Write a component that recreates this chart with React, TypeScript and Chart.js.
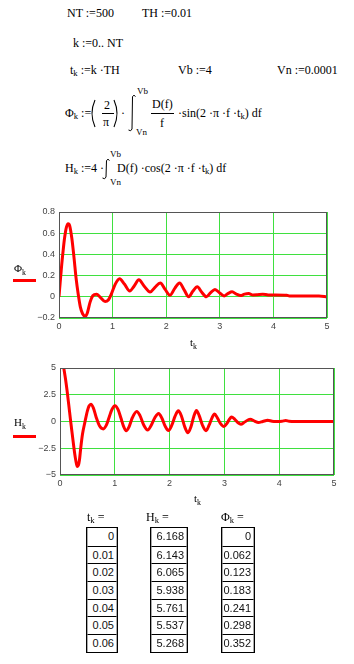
import React, { useEffect, useRef } from 'react';
import { Chart, registerables } from 'chart.js';
Chart.register(...registerables);

// ---- Data ----
const phiT = [0, 0.01, 0.02, 0.03, 0.04, 0.05, 0.06, 0.08, 0.10, 0.12, 0.14, 0.17, 0.20, 0.24, 0.28, 0.32, 0.36, 0.40, 0.44, 0.49, 0.53, 0.58, 0.63, 0.70, 0.77, 0.86, 0.92, 0.98, 1.05, 1.13, 1.22, 1.32, 1.40, 1.49, 1.59, 1.70, 1.79, 1.89, 1.98, 2.07, 2.16, 2.25, 2.34, 2.42, 2.50, 2.58, 2.66, 2.75, 2.83, 2.91, 3.00, 3.08, 3.15, 3.23, 3.31, 3.39, 3.46, 3.54, 3.62, 3.70, 3.80, 3.90, 4.00, 4.25, 4.30, 4.60, 4.85, 5.00];
const phiV = [0, 0.062, 0.123, 0.183, 0.241, 0.298, 0.352, 0.45, 0.54, 0.61, 0.66, 0.69, 0.67, 0.55, 0.37, 0.17, 0.02, -0.10, -0.16, -0.185, -0.15, -0.05, 0.01, 0.025, -0.005, -0.045, -0.03, 0.03, 0.12, 0.17, 0.12, 0.055, 0.10, 0.16, 0.10, 0.045, 0.09, 0.13, 0.07, 0.015, 0.08, 0.13, 0.06, 0.0, 0.055, 0.095, 0.045, 0.0, 0.04, 0.07, 0.035, 0.008, 0.03, 0.047, 0.025, 0.012, 0.025, 0.03, 0.018, 0.02, 0.024, 0.018, 0.017, 0.015, 0.008, 0.008, 0.008, 0.0];

const hT = [0, 0.01, 0.02, 0.03, 0.04, 0.05, 0.06, 0.08, 0.10, 0.13, 0.16, 0.195, 0.225, 0.255, 0.28, 0.30, 0.317, 0.335, 0.355, 0.378, 0.41, 0.457, 0.50, 0.53, 0.565, 0.61, 0.66, 0.72, 0.79, 0.85, 0.90, 0.95, 1.005, 1.06, 1.11, 1.16, 1.207, 1.26, 1.32, 1.40, 1.46, 1.53, 1.60, 1.66, 1.73, 1.80, 1.86, 1.92, 1.98, 2.04, 2.10, 2.16, 2.22, 2.28, 2.335, 2.39, 2.44, 2.49, 2.54, 2.60, 2.665, 2.72, 2.77, 2.82, 2.87, 2.93, 2.99, 3.05, 3.09, 3.13, 3.19, 3.25, 3.30, 3.37, 3.47, 3.55, 3.62, 3.70, 3.79, 3.87, 3.95, 4.05, 4.12, 4.18, 4.30, 5.00];
const hV = [6.168, 6.143, 6.065, 5.938, 5.761, 5.537, 5.268, 4.65, 4.0, 2.85, 1.55, 0, -1.25, -2.5, -3.4, -3.95, -4.2, -4.1, -3.6, -2.5, -1.2, 0, 1.0, 1.45, 1.62, 1.25, 0.4, -0.4, -0.69, -0.3, 0.45, 1.15, 1.47, 1.1, 0.35, -0.45, -0.87, -0.5, 0.35, 0.94, 0.55, -0.35, -0.8, -0.4, 0.35, 0.75, 0.3, -0.45, -0.85, -0.35, 0.5, 1.0, 0.45, -0.55, -1.05, -0.5, 0.45, 1.02, 0.55, -0.35, -0.86, -0.35, 0.3, 0.71, 0.35, -0.2, -0.47, -0.15, 0.2, 0.41, 0.2, -0.12, -0.25, -0.05, 0.22, 0.03, -0.1, 0.0, 0.12, 0.02, 0.0, 0.02, 0.1, 0.02, 0.0, 0.0];

const tableT = ['0', '0.01', '0.02', '0.03', '0.04', '0.05', '0.06'];
const tableH = ['6.168', '6.143', '6.065', '5.938', '5.761', '5.537', '5.268'];
const tablePhi = ['0', '0.062', '0.123', '0.183', '0.241', '0.298', '0.352'];

const xTickMin = 0;
const xTickMax = 5;
const xTickStep = 1;
const phiTickMin = -0.2;
const phiTickMax = 0.8;
const phiTickStep = 0.2;
const hTickMin = -5;
const hTickMax = 5;
const hTickStep = 2.5;

// ---- Styles ----
const SERIF = '"Liberation Serif","Times New Roman",serif';
const SANS = '"Liberation Sans",Arial,sans-serif';
const GRID = '#3fe03f';
const RED = '#ff0000';

function fmtTick(v: number) {
  const r = Math.round(v * 1000) / 1000;
  if (r < 0) return '\u2212' + String(-r);
  return String(r);
}

type PlotProps = {
  top: number; height: number; xs: number[]; ys: number[];
  yMin: number; yMax: number; yStep: number;
  axisW: number; padTop: number; padRight: number; xAxisH: number;
};

function Plot(p: PlotProps) {
  const ref = useRef<HTMLCanvasElement>(null);
  useEffect(() => {
    const frame = {
      id: 'frame',
      afterDatasetsDraw(chart: any) {
        const { ctx, chartArea: a } = chart;
        ctx.save();
        ctx.strokeStyle = '#555';
        ctx.lineWidth = 1;
        ctx.strokeRect(a.left + 0.5, a.top + 0.5, a.right - a.left - 1, a.bottom - a.top - 1);
        ctx.restore();
      },
    };
    const font = { family: SANS, size: 9 };
    const chart = new Chart(ref.current!, {
      type: 'line',
      data: {
        datasets: [{
          data: p.xs.map((x, i) => ({ x, y: p.ys[i] })),
          borderColor: RED,
          borderWidth: 3,
          pointRadius: 0,
          fill: false,
          cubicInterpolationMode: 'monotone',
        }],
      },
      options: {
        animation: false,
        responsive: false,
        maintainAspectRatio: false,
        layout: { padding: { top: p.padTop, right: p.padRight, left: 0, bottom: 0 } },
        plugins: { legend: { display: false }, tooltip: { enabled: false } },
        scales: {
          x: {
            type: 'linear', min: xTickMin, max: xTickMax,
            ticks: { stepSize: xTickStep, padding: 3, font, color: '#444', maxRotation: 0, callback: (v: any) => fmtTick(Number(v)) },
            grid: { color: GRID, drawTicks: false, lineWidth: 1 },
            border: { display: false },
            afterFit: (s: any) => { s.height = p.xAxisH; },
          },
          y: {
            type: 'linear', min: p.yMin, max: p.yMax,
            ticks: { stepSize: p.yStep, padding: 4, font, color: '#444', callback: (v: any) => fmtTick(Number(v)) },
            grid: { color: GRID, drawTicks: false, lineWidth: 1 },
            border: { display: false },
            afterFit: (s: any) => { s.width = p.axisW; },
          },
        },
      } as any,
      plugins: [frame],
    });
    return () => chart.destroy();
  }, []);
  return (
    <canvas ref={ref} width={354} height={p.height}
      style={{ position: 'absolute', left: 0, top: p.top, width: 354, height: p.height }} />
  );
}

const Sub = ({ children }: any) => (
  <span style={{ fontSize: '0.72em', position: 'relative', top: '0.32em' }}>{children}</span>
);

function T({ x, y, size = 12, children, font = SERIF }: any) {
  return (
    <div style={{
      position: 'absolute', left: x, top: y - size * 0.62, fontSize: size,
      lineHeight: `${Math.round(size * 1.24)}px`, whiteSpace: 'nowrap', fontFamily: font, color: '#000',
    }}>{children}</div>
  );
}

function Integral({ x, top, h }: any) {
  return (
    <svg style={{ position: 'absolute', left: x, top }} width={8} height={h}>
      <path d={`M7.5,2.5 Q6,0 4.5,2.5 L4,${h - 3} Q3,${h} 0.5,${h - 2}`} stroke="#000" fill="none" strokeWidth={1} />
    </svg>
  );
}

function Paren({ x, top, h, right }: any) {
  const d = right ? `M1,1 Q7,${h / 2} 1,${h - 1}` : `M7,1 Q1,${h / 2} 7,${h - 1}`;
  return (
    <svg style={{ position: 'absolute', left: x, top }} width={8} height={h}>
      <path d={d} stroke="#000" fill="none" strokeWidth={1.1} />
    </svg>
  );
}

function Bar({ x, y, w }: any) {
  return <div style={{ position: 'absolute', left: x, top: y, width: w, height: 1, background: '#000' }} />;
}

function Col({ x, w, values }: any) {
  const rowH = 17.7;
  return (
    <div style={{ position: 'absolute', left: x, top: 527, width: w, boxSizing: 'border-box', border: '1px solid #000', background: '#fff' }}>
      {values.map((v: string, i: number) => (
        <div key={i} style={{
          height: rowH, boxSizing: 'border-box', borderTop: i ? '1px solid #000' : 'none',
          borderLeft: '1px solid #aaa', borderRight: '1px solid #aaa',
          textAlign: 'right', paddingRight: 2, fontFamily: SANS, fontSize: 11, lineHeight: `${rowH - 1}px`, color: '#111',
        }}>{v}</div>
      ))}
    </div>
  );
}

export default function App() {
  return (
    <div style={{ position: 'fixed', left: 0, top: 0, width: 354, height: 664, background: '#fff', overflow: 'hidden' }}>
      {/* definitions */}
      <T x={67} y={13}>NT :=500</T>
      <T x={142} y={13}>TH :=0.01</T>
      <T x={73} y={43}>k :=0.. NT</T>
      <T x={70} y={70}>t<Sub>k</Sub> :=k ·TH</T>
      <T x={178} y={70}>Vb :=4</T>
      <T x={277} y={70}>Vn :=0.0001</T>

      {/* Phi formula */}
      <T x={65} y={113}>Φ<Sub>k</Sub> :=</T>
      <Paren x={88} top={99} h={29} />
      <T x={104} y={105}>2</T>
      <Bar x={102} y={113} w={12} />
      <T x={103} y={122}>π</T>
      <Paren x={113} top={99} h={29} right />
      <T x={121} y={113}>·</T>
      <Integral x={128} top={94} h={38} />
      <T x={137} y={92} size={9}>Vb</T>
      <T x={136} y={133} size={9}>Vn</T>
      <T x={152} y={104}>D(f)</T>
      <Bar x={151} y={113} w={23} />
      <T x={160} y={123}>f</T>
      <T x={178} y={113}>·sin(2 ·π ·f ·t<Sub>k</Sub>) df</T>

      {/* H formula */}
      <T x={65} y={168}>H<Sub>k</Sub> :=4 ·</T>
      <Integral x={102} top={158} h={22} />
      <T x={110} y={155} size={9}>Vb</T>
      <T x={110} y={183} size={9}>Vn</T>
      <T x={117} y={168}>D(f) ·cos(2 ·π ·f ·t<Sub>k</Sub>) df</T>

      {/* chart 1 */}
      <Plot top={200} height={150} xs={phiT} ys={phiV} yMin={phiTickMin} yMax={phiTickMax} yStep={phiTickStep}
        axisW={59} padTop={12} padRight={27} xAxisH={32} />
      <T x={14} y={268} size={11}>Φ<Sub>k</Sub></T>
      <div style={{ position: 'absolute', left: 13, top: 279, width: 23, height: 3, background: RED }} />
      <T x={190} y={342} size={11}>t<Sub>k</Sub></T>

      {/* chart 2 */}
      <Plot top={355} height={150} xs={hT} ys={hV} yMin={hTickMin} yMax={hTickMax} yStep={hTickStep}
        axisW={60} padTop={13} padRight={20} xAxisH={30} />
      <T x={14} y={422} size={11}>H<Sub>k</Sub></T>
      <div style={{ position: 'absolute', left: 13, top: 435, width: 23, height: 3, background: RED }} />
      <T x={194} y={498} size={11}>t<Sub>k</Sub></T>

      {/* tables */}
      <T x={87} y={517}>t<Sub>k</Sub> =</T>
      <T x={146} y={517}>H<Sub>k</Sub> =</T>
      <T x={221} y={517}>Φ<Sub>k</Sub> =</T>
      <Col x={86} w={32} values={tableT} />
      <Col x={150} w={38} values={tableH} />
      <Col x={221} w={34} values={tablePhi} />
    </div>
  );
}
